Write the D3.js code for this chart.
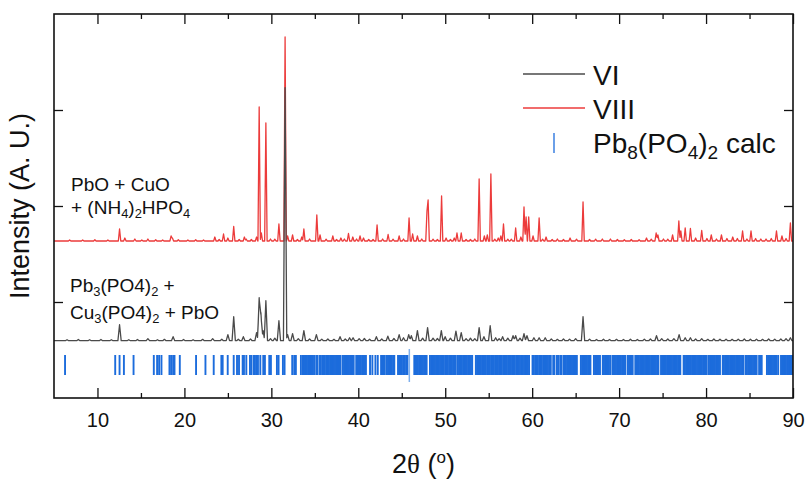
<!DOCTYPE html>
<html><head><meta charset="utf-8">
<script src="https://cdn.jsdelivr.net/npm/d3@7"></script>
<style>body{margin:0;background:#fff} text{font-family:"Liberation Sans",Arial,sans-serif}</style>
</head><body><svg id="c" width="807" height="480"></svg>
<script>
// ---- data ----
const xMajorTicks = [10,20,30,40,50,60,70,80,90];
const xMinorTicks = [15,25,35,45,55,65,75,85];
const yTicks = [960,1920,2880];
const seriesNames = ["VI","VIII","Pb8(PO4)2 calc"];
const offsetVI = 573, offsetVIII = 1570;
// [2theta, peak height above baseline (a.u.)]
const peaksVI = [[6.5,10],[7.8,12],[9.1,10],[10.4,12],[11.6,10],[12.54,160],[13.6,10],[14.6,12],[15.8,20],[16.9,10],[17.7,14],[18.7,40],[19.9,12],[21.0,10],[22.1,14],[23.25,20],[24.3,15],[25.0,60],[25.67,240],[26.2,15],[26.78,40],[27.6,18],[28.3,80],[28.6,430],[28.8,280],[29.05,100],[29.37,400],[29.9,20],[30.4,25],[30.87,200],[31.58,2530],[31.87,60],[32.44,70],[33.1,20],[33.74,100],[34.4,18],[35.18,60],[35.8,16],[36.5,18],[37.2,14],[37.9,40],[38.5,18],[39.0,30],[39.4,30],[40.1,20],[40.7,22],[41.3,15],[42.08,40],[42.7,18],[43.4,45],[44.1,22],[44.7,60],[45.2,30],[45.8,60],[46.1,50],[46.8,100],[47.4,25],[47.97,130],[48.6,25],[49.1,22],[49.55,100],[49.99,40],[50.6,25],[51.23,95],[51.84,80],[52.4,20],[52.9,25],[53.4,20],[53.9,130],[54.45,40],[55.17,150],[55.8,30],[56.2,20],[56.6,40],[57.2,25],[57.8,50],[58.1,50],[58.6,25],[59.06,70],[59.4,50],[60.2,30],[60.8,30],[61.5,30],[62.2,18],[62.9,14],[63.6,18],[64.3,16],[65.0,20],[65.85,240],[66.6,16],[67.4,12],[68.2,15],[68.9,12],[69.7,14],[70.5,12],[71.3,15],[72.1,12],[72.9,16],[73.6,18],[74.3,50],[74.9,20],[75.6,18],[76.3,20],[76.9,60],[77.6,30],[78.2,30],[78.8,18],[79.5,20],[80.2,14],[80.9,18],[81.6,15],[82.3,16],[83.0,14],[83.7,16],[84.4,18],[85.1,15],[85.8,16],[86.5,14],[87.2,18],[87.9,16],[88.6,18],[89.2,20],[89.7,30]];
const peaksVIII = [[6.8,10],[8.3,10],[9.7,12],[11.2,10],[12.54,120],[13.15,30],[14.3,20],[15.1,10],[15.8,20],[16.7,12],[17.5,10],[18.47,50],[18.62,30],[19.3,12],[20.4,10],[21.3,12],[22.2,10],[23.5,40],[24.0,15],[24.5,70],[25.0,30],[25.67,145],[26.3,15],[26.9,40],[27.1,20],[27.7,15],[28.3,40],[28.6,1340],[28.85,80],[29.37,1180],[29.9,20],[30.4,18],[30.87,170],[31.58,2040],[31.87,50],[32.44,60],[33.0,15],[33.5,40],[33.74,120],[34.4,20],[35.23,260],[35.6,60],[36.3,18],[37.07,50],[37.5,15],[38.0,30],[38.4,20],[38.87,75],[39.37,40],[39.8,20],[40.2,50],[40.6,30],[41.2,15],[41.7,15],[42.16,160],[42.8,20],[43.43,65],[44.0,18],[44.7,50],[45.2,20],[45.84,230],[46.25,70],[46.8,50],[47.3,20],[47.9,300],[48.03,410],[48.6,18],[49.1,15],[49.58,450],[50.1,30],[50.6,15],[51.04,30],[51.35,80],[51.84,80],[52.4,15],[52.9,15],[53.4,20],[53.9,620],[54.5,50],[54.84,60],[55.25,670],[55.7,18],[56.1,30],[56.4,50],[56.7,170],[57.2,18],[57.6,18],[58.1,130],[58.7,40],[59.06,340],[59.3,240],[59.6,240],[60.1,50],[60.8,230],[61.2,18],[61.6,40],[62.3,15],[62.9,20],[63.6,15],[64.36,30],[65.1,18],[65.85,390],[66.6,15],[67.3,18],[68.07,20],[69.0,20],[69.8,15],[70.6,12],[71.4,15],[72.3,12],[73.15,30],[73.7,18],[74.26,80],[74.46,60],[75.1,20],[75.6,18],[76.15,60],[76.87,200],[77.1,100],[77.6,130],[78.2,125],[78.8,30],[79.5,105],[80.1,25],[80.6,60],[81.2,20],[81.77,60],[82.4,25],[83.07,40],[83.6,25],[84.2,100],[84.7,20],[85.17,100],[85.7,25],[86.3,20],[86.9,20],[87.5,25],[88.1,100],[88.73,50],[89.2,25],[89.7,180]];
const calcTicks = [6.27,12.04,12.54,13.04,14.15,16.48,16.86,17.09,17.36,18.28,18.47,18.70,18.86,19.47,21.34,22.42,23.37,24.25,24.40,24.98,25.67,26.05,26.28,26.70,26.85,27.12,27.54,27.70,27.96,28.11,28.27,28.46,28.73,29.07,29.26,29.76,29.95,30.64,30.83,31.33,31.52,32.40,32.63,32.82,33.40,
33.62,33.72,33.85,33.98,34.10,34.25,34.38,34.52,34.64,34.78,34.92,35.16,35.30,35.55,35.68,35.85,36.00,36.14,36.30,36.50,36.62,36.76,36.88,37.04,37.18,37.32,37.46,37.58,37.70,37.83,37.96,38.22,38.36,38.50,38.68,38.80,38.93,39.06,39.20,39.33,39.47,39.76,39.90,40.04,40.18,40.30,40.45,40.60,40.74,40.88,41.35,41.62,41.97,42.24,42.62,42.75,42.90,43.05,43.28,43.42,43.56,43.70,43.85,44.00,44.14,44.57,44.72,44.88,45.02,45.18,45.34,45.50,45.66,45.87,46.44,46.58,46.72,46.86,47.00,47.14,47.30,47.44,47.58,47.72,47.86,48.24,48.38,48.52,48.68,48.82,48.96,49.10,49.26,49.40,49.55,49.70,49.84,50.00,50.14,50.30,50.45,50.60,50.76,50.90,51.06,51.22,51.46,51.60,51.75,51.90,52.05,52.20,52.35,52.50,52.66,52.80,52.96,53.10,53.52,53.66,53.80,53.95,54.10,54.24,54.40,54.54,54.68,54.84,55.00,55.14,55.30,55.44,55.60,55.76,55.90,56.06,56.20,56.36,56.50,56.66,56.80,56.96,57.10,57.26,57.40,57.56,57.70,57.86,58.00,58.16,58.30,58.46,58.60,58.76,58.90,59.06,59.20,59.36,59.50,59.64,60.04,60.18,60.34,60.50,60.64,60.80,60.95,61.10,61.26,61.40,61.55,61.68,61.82,62.00,62.14,62.42,62.56,62.84,62.98,63.22,63.36,63.60,63.74,63.88,64.02,64.16,64.30,64.44,64.58,64.72,64.86,65.00,65.14,65.60,65.74,65.88,66.02,66.16,66.30,66.44,66.58,66.70,67.10,67.24,67.38,67.52,67.66,67.80,68.12,68.26,68.40,68.54,68.68,68.82,68.96,69.22,69.36,69.50,69.64,69.78,69.92,70.06,70.20,70.34,70.48,70.62,70.72,71.00,71.14,71.28,71.42,71.56,71.86,72.00,72.14,72.28,72.42,72.56,72.70,72.84,72.98,73.12,73.26,73.40,73.54,73.68,73.82,73.96,74.10,74.24,74.38,74.52,74.82,74.96,75.10,75.24,75.38,75.52,75.66,75.80,75.94,76.08,76.22,76.36,76.50,76.64,76.78,76.92,77.04,77.42,77.56,77.70,77.84,77.98,78.12,78.26,78.40,78.54,78.68,78.82,78.96,79.10,79.24,79.38,79.52,79.66,79.80,79.94,80.08,80.32,80.46,80.60,80.74,80.88,81.02,81.16,81.30,81.44,81.60,81.92,82.06,82.20,82.34,82.48,82.62,82.76,82.90,83.04,83.18,83.32,83.46,83.60,83.74,83.88,84.02,84.16,84.30,84.56,84.70,84.84,84.98,85.12,85.26,85.40,85.54,85.68,85.82,86.10,86.24,86.40,87.00,87.14,87.28,87.42,87.56,87.70,87.84,87.98,88.12,88.30,88.62,88.76,88.90,89.04,89.18,89.32,89.46,89.60,89.74,89.88];
const calcLongTicks = [45.87];
const calcBand = [230, 430];
const calcLongBand = [160, 490];

// ---- layout ----
const svg = d3.select("#c");
const L=54, R=793, T=14, B=398;
const x = d3.scaleLinear([5,90],[L,R]);
const y = d3.scaleLinear([0,3840],[B,T]);

function profile(peaks, offset, w){
  const xs = new Set([5,90]);
  peaks.forEach(([c])=>{xs.add(c-w);xs.add(c);xs.add(c+w);});
  const arr = Array.from(xs).filter(v=>v>=5&&v<=90).sort((a,b)=>a-b);
  return arr.map(v=>{
    let m=0;
    peaks.forEach(([c,h])=>{const t=1-Math.abs(v-c)/w; if(t>0) m=Math.max(m,h*t);});
    return [v, offset+m];
  });
}
const line = d3.line().x(d=>x(d[0])).y(d=>y(d[1]));

// calc ticks
svg.append("g").selectAll("line").data(calcTicks.filter(t=>!calcLongTicks.includes(t))).join("line")
  .attr("x1",d=>x(d)).attr("x2",d=>x(d)).attr("y1",y(calcBand[0])).attr("y2",y(calcBand[1]))
  .attr("stroke","#1c6cdc").attr("stroke-width",1.9);
svg.append("g").selectAll("line").data(calcLongTicks).join("line")
  .attr("x1",d=>x(d)).attr("x2",d=>x(d)).attr("y1",y(calcLongBand[0])).attr("y2",y(calcLongBand[1]))
  .attr("stroke","#7fb0ee").attr("stroke-width",1.5);

svg.append("path").datum(profile(peaksVIII, offsetVIII, 0.14)).attr("d",line)
  .attr("fill","none").attr("stroke","#ec3b3b").attr("stroke-width",1.3).attr("stroke-linejoin","round");
svg.append("path").datum(profile(peaksVI, offsetVI, 0.19)).attr("d",line)
  .attr("fill","none").attr("stroke","#4a4a4a").attr("stroke-width",1.3).attr("stroke-linejoin","round");

// axes
const gB = svg.append("g").attr("transform",`translate(0,${B})`)
  .call(d3.axisBottom(x).tickValues(xMajorTicks).tickSize(-10).tickPadding(15).tickFormat(d3.format("d")));
svg.append("g").attr("transform",`translate(0,${B})`)
  .call(d3.axisBottom(x).tickValues(xMinorTicks).tickSize(-5).tickFormat(""));
svg.append("g").attr("transform",`translate(0,${T})`)
  .call(d3.axisTop(x).tickValues(xMajorTicks).tickSize(-10).tickFormat(""));
svg.append("g").attr("transform",`translate(0,${T})`)
  .call(d3.axisTop(x).tickValues(xMinorTicks).tickSize(-5).tickFormat(""));
svg.append("g").attr("transform",`translate(${L},0)`)
  .call(d3.axisLeft(y).tickValues(yTicks).tickSize(-9).tickFormat(""));
svg.append("g").attr("transform",`translate(${R},0)`)
  .call(d3.axisRight(y).tickValues(yTicks).tickSize(-9).tickFormat(""));
svg.selectAll(".domain").remove();
svg.selectAll(".tick line").attr("stroke","#111").attr("stroke-width",1.3);
gB.selectAll("text").attr("font-size",20).attr("fill","#111").attr("font-family","Liberation Sans, Arial, sans-serif");
svg.append("rect").attr("x",L).attr("y",T).attr("width",R-L).attr("height",B-T)
  .attr("fill","none").attr("stroke","#111").attr("stroke-width",1.6);

// axis titles
svg.append("text").attr("transform","translate(29,206) rotate(-90)").attr("text-anchor","middle")
  .attr("font-size",27).attr("fill","#111").text("Intensity (A. U.)");
const xt = svg.append("text").attr("x",(L+R)/2).attr("y",473).attr("text-anchor","middle").attr("font-size",27).attr("fill","#111");
xt.append("tspan").text("2");
xt.append("tspan").attr("font-family","Liberation Serif, serif").text("θ");
xt.append("tspan").text(" (");
xt.append("tspan").attr("font-size",17).attr("dy",-10).text("o");
xt.append("tspan").attr("dy",10).text(")");

// legend
const lg = svg.append("g");
lg.append("line").attr("x1",523).attr("x2",585).attr("y1",74).attr("y2",74).attr("stroke","#4a4a4a").attr("stroke-width",1.3);
lg.append("line").attr("x1",523).attr("x2",585).attr("y1",108).attr("y2",108).attr("stroke","#ec3b3b").attr("stroke-width",1.3);
lg.append("line").attr("x1",554).attr("x2",554).attr("y1",133).attr("y2",153).attr("stroke","#1c6cdc").attr("stroke-width",1.3);
lg.append("text").attr("x",593).attr("y",85).attr("font-size",28).attr("fill","#111").text(seriesNames[0]);
lg.append("text").attr("x",593).attr("y",119).attr("font-size",28).attr("fill","#111").text(seriesNames[1]);
function chem(sel, parts, fs){
  let sub=false;
  parts.forEach(([t,s])=>{
    const sp = sel.append("tspan").text(t);
    if(s && !sub){ sp.attr("font-size",fs*0.68).attr("dy",fs*0.22); sub=true; }
    else if(s && sub){ sp.attr("font-size",fs*0.68); }
    else if(!s && sub){ sp.attr("dy",-fs*0.22); sub=false; }
  });
}
chem(lg.append("text").attr("x",593).attr("y",153).attr("font-size",28).attr("fill","#111"),
  [["Pb",0],["8",1],["(PO",0],["4",1],[")",0],["2",1],[" calc",0]],28);

// annotations
const fsA=19;
chem(svg.append("text").attr("x",71).attr("y",191).attr("font-size",fsA).attr("fill","#111"),[["PbO + CuO",0]],fsA);
chem(svg.append("text").attr("x",71).attr("y",214).attr("font-size",fsA).attr("fill","#111"),
  [["+ (NH",0],["4",1],[")",0],["2",1],["HPO",0],["4",1]],fsA);
chem(svg.append("text").attr("x",70).attr("y",292).attr("font-size",fsA).attr("fill","#111"),
  [["Pb",0],["3",1],["(PO4)",0],["2",1],[" +",0]],fsA);
chem(svg.append("text").attr("x",70).attr("y",319).attr("font-size",fsA).attr("fill","#111"),
  [["Cu",0],["3",1],["(PO4)",0],["2",1],[" + PbO",0]],fsA);
</script></body></html>
